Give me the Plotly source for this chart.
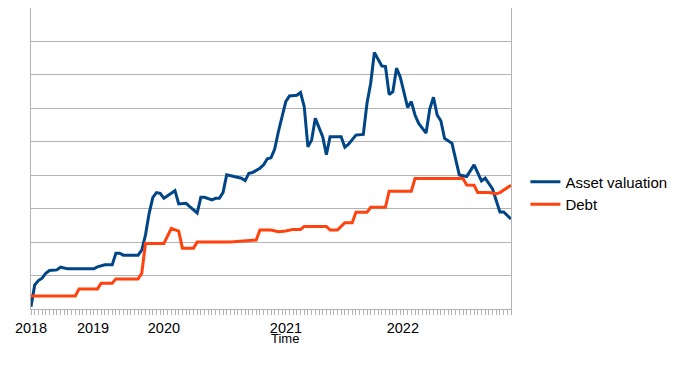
import plotly.graph_objects as go

# Category positions (period index) and values
asset_x = [0, 1, 2, 3, 4, 5, 7, 8, 10, 17, 18, 20, 22, 23, 24, 25, 29, 30, 31, 32,
           33, 34, 35, 36, 38, 39, 40, 42, 43, 45, 46, 47, 49, 50, 51, 52, 53, 55, 57, 58,
           59, 60, 62, 63, 64, 65, 66, 67, 68, 69, 70, 72, 73, 74, 75, 76, 77, 79, 80, 81,
           84, 85, 86, 87, 88, 90, 91, 92, 93, 95, 96, 97, 98, 99, 100, 102, 103, 104, 105, 107,
           108, 109, 110, 111, 112, 114, 116, 118, 120, 122, 123, 125, 127, 128, 130]
asset_y = [0.07, 0.72, 0.85, 0.92, 1.07, 1.15, 1.17, 1.25, 1.20, 1.20, 1.26, 1.32, 1.32, 1.67, 1.67, 1.61, 1.61, 1.76, 2.21, 2.86,
           3.34, 3.48, 3.46, 3.31, 3.46, 3.54, 3.14, 3.16, 3.06, 2.87, 3.34, 3.34, 3.26, 3.31, 3.31, 3.48, 4.01, 3.96, 3.91, 3.84,
           4.06, 4.08, 4.21, 4.31, 4.49, 4.52, 4.78, 5.30, 5.75, 6.20, 6.37, 6.39, 6.47, 6.05, 4.85, 5.05, 5.70, 5.15, 4.61, 5.15,
           5.15, 4.84, 4.93, 5.05, 5.20, 5.22, 6.15, 6.75, 7.67, 7.27, 7.25, 6.41, 6.50, 7.20, 6.94, 6.03, 6.20, 5.80, 5.55, 5.26,
           5.98, 6.33, 5.80, 5.63, 5.10, 4.96, 4.01, 3.96, 4.31, 3.83, 3.91, 3.59, 2.90, 2.90, 2.69]

debt_x = [0, 12, 13, 18, 19, 22, 23, 29, 30, 31, 36, 38, 40, 41, 44, 45, 54, 58, 60, 61,
          62, 65, 67, 69, 71, 73, 74, 80, 81, 83, 85, 87, 88, 91, 92, 96, 97, 103, 104, 117,
          118, 120, 121, 124, 126, 127, 130]
debt_y = [0.39, 0.39, 0.60, 0.60, 0.77, 0.77, 0.90, 0.90, 1.07, 1.96, 1.96, 2.41, 2.33, 1.82, 1.82, 2.00, 2.00, 2.03, 2.06, 2.06,
          2.36, 2.36, 2.31, 2.33, 2.38, 2.38, 2.47, 2.47, 2.36, 2.36, 2.58, 2.58, 2.89, 2.89, 3.04, 3.04, 3.52, 3.52, 3.90, 3.90,
          3.71, 3.70, 3.48, 3.48, 3.45, 3.48, 3.70]

year_pos = [0, 16.8, 36.0, 69.05, 100.7]
year_labels = ["2018", "2019", "2020", "2021", "2022"]
n_periods = 131

FONT = "Liberation Sans, Arial, sans-serif"
GRID = "#b3b3b3"

fig = go.Figure()
fig.add_trace(go.Scatter(x=asset_x, y=asset_y, mode="lines", name="Asset valuation",
                         line=dict(color="#004586", width=3)))
fig.add_trace(go.Scatter(x=debt_x, y=debt_y, mode="lines", name="Debt",
                         line=dict(color="#ff420e", width=3)))

fig.update_layout(
    width=670, height=358,
    margin=dict(l=23, r=167, t=0, b=57, autoexpand=False),
    paper_bgcolor="white", plot_bgcolor="white",
    font=dict(family=FONT, color="black", size=14),
    showlegend=True,
    legend=dict(x=1.03, y=0.385, yanchor="middle", xanchor="left",
                font=dict(size=15, family=FONT, color="black"),
                bgcolor="rgba(0,0,0,0)", tracegroupgap=0, itemwidth=30),
    xaxis=dict(range=[0, n_periods - 1], showgrid=False, zeroline=False,
               showline=True, linecolor=GRID, linewidth=1, mirror=True,
               tickmode="array", tickvals=year_pos, ticktext=year_labels,
               ticks="", ticklabelstandoff=6,
               tickfont=dict(size=14.5, family=FONT, color="black"),
               minor=dict(tickmode="linear", tick0=0, dtick=1, ticks="outside",
                          ticklen=5, tickcolor=GRID, tickwidth=1, showgrid=False)),
    yaxis=dict(range=[0, 9], dtick=1, tick0=0, showgrid=True, gridcolor=GRID, gridwidth=1,
               zeroline=False, showline=True, linecolor=GRID, linewidth=1, mirror=True,
               showticklabels=False, ticks=""),
    annotations=[dict(text="Time", xref="paper", yref="paper", x=0.529, y=-0.097,
                      xanchor="center", yanchor="middle", showarrow=False,
                      font=dict(size=13, family=FONT, color="black"))],
)

fig.write_html("out.html")
